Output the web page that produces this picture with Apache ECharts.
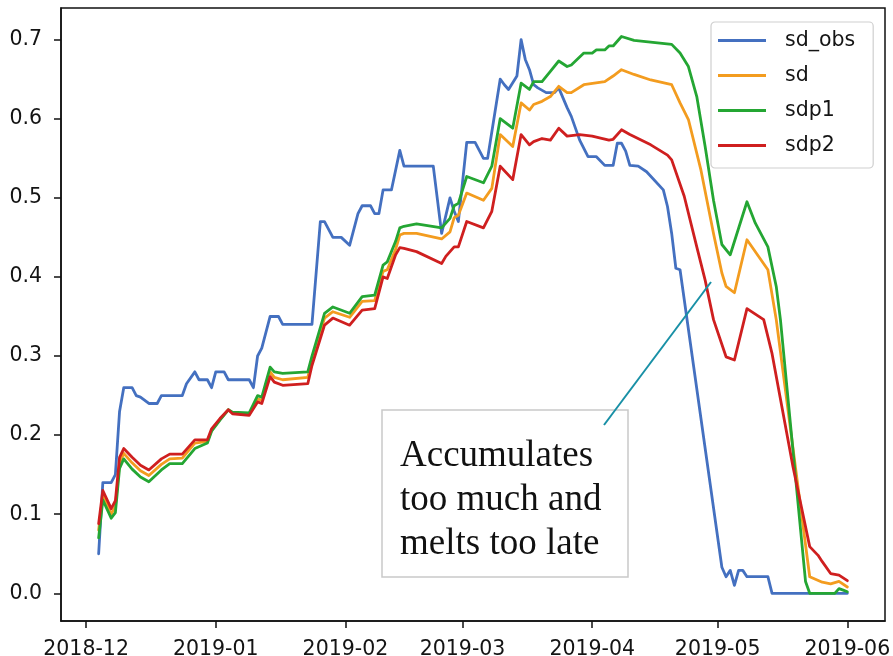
<!DOCTYPE html>
<html>
<head>
<meta charset="utf-8">
<style>
  html, body { margin: 0; padding: 0; background: #ffffff; }
  #chart { width: 893px; height: 656px; }
</style>
<script src="https://cdn.jsdelivr.net/npm/echarts@6/dist/echarts.min.js"></script>
</head>
<body>
<div id="chart"></div>
<script>
// Snow depth: observations against three model runs
const seriesNames = ['sd_obs', 'sd', 'sdp1', 'sdp2'];
const seriesColors = ['#4470c0', '#f39c1f', '#24a633', '#cf1f1f'];

const xTickLabels = ['2018-12', '2019-01', '2019-02', '2019-03', '2019-04', '2019-05', '2019-06'];
const yTickValues = [0.0, 0.1, 0.2, 0.3, 0.4, 0.5, 0.6, 0.7];

const sdObs = [
  ['2018-12-04', 0.050], ['2018-12-05', 0.140], ['2018-12-07', 0.140], ['2018-12-08', 0.150],
  ['2018-12-09', 0.230], ['2018-12-10', 0.260], ['2018-12-12', 0.260], ['2018-12-13', 0.250],
  ['2018-12-14', 0.248], ['2018-12-16', 0.240], ['2018-12-18', 0.240], ['2018-12-19', 0.250],
  ['2018-12-24', 0.250], ['2018-12-25', 0.265], ['2018-12-27', 0.280], ['2018-12-28', 0.270],
  ['2018-12-30', 0.270], ['2018-12-31', 0.260], ['2019-01-01', 0.280], ['2019-01-03', 0.280],
  ['2019-01-04', 0.270], ['2019-01-09', 0.270], ['2019-01-10', 0.260], ['2019-01-11', 0.300],
  ['2019-01-12', 0.310], ['2019-01-14', 0.350], ['2019-01-16', 0.350], ['2019-01-17', 0.340],
  ['2019-01-24', 0.340], ['2019-01-26', 0.470], ['2019-01-27', 0.470], ['2019-01-29', 0.450],
  ['2019-01-31', 0.450], ['2019-02-02', 0.440], ['2019-02-04', 0.480], ['2019-02-05', 0.490],
  ['2019-02-07', 0.490], ['2019-02-08', 0.480], ['2019-02-09', 0.480], ['2019-02-10', 0.510],
  ['2019-02-12', 0.510], ['2019-02-14', 0.560], ['2019-02-15', 0.540], ['2019-02-22', 0.540],
  ['2019-02-24', 0.455], ['2019-02-26', 0.500], ['2019-02-27', 0.483], ['2019-02-28', 0.470],
  ['2019-03-02', 0.570], ['2019-03-04', 0.570], ['2019-03-05', 0.560], ['2019-03-06', 0.550],
  ['2019-03-07', 0.550], ['2019-03-10', 0.650], ['2019-03-11', 0.643], ['2019-03-12', 0.637],
  ['2019-03-14', 0.654], ['2019-03-15', 0.700], ['2019-03-16', 0.675], ['2019-03-17', 0.662],
  ['2019-03-18', 0.643], ['2019-03-19', 0.639], ['2019-03-21', 0.633], ['2019-03-23', 0.633],
  ['2019-03-24', 0.639], ['2019-03-26', 0.614], ['2019-03-27', 0.603], ['2019-03-29', 0.573],
  ['2019-03-31', 0.552], ['2019-04-02', 0.552], ['2019-04-04', 0.541], ['2019-04-06', 0.541],
  ['2019-04-07', 0.569], ['2019-04-08', 0.569], ['2019-04-09', 0.559], ['2019-04-10', 0.541],
  ['2019-04-12', 0.540], ['2019-04-14', 0.533], ['2019-04-18', 0.510], ['2019-04-19', 0.489],
  ['2019-04-20', 0.455], ['2019-04-21', 0.411], ['2019-04-22', 0.409], ['2019-05-02', 0.033],
  ['2019-05-03', 0.021], ['2019-05-04', 0.029], ['2019-05-05', 0.010], ['2019-05-06', 0.029],
  ['2019-05-07', 0.029], ['2019-05-08', 0.021], ['2019-05-13', 0.021], ['2019-05-14', 0.000],
  ['2019-06-01', 0.000]
];

const sdModel = [
  ['2018-12-04', 0.080], ['2018-12-05', 0.125], ['2018-12-07', 0.100], ['2018-12-08', 0.110],
  ['2018-12-09', 0.165], ['2018-12-10', 0.177], ['2018-12-12', 0.165], ['2018-12-14', 0.155],
  ['2018-12-16', 0.149], ['2018-12-19', 0.163], ['2018-12-21', 0.170], ['2018-12-24', 0.171],
  ['2018-12-27', 0.190], ['2018-12-30', 0.192], ['2018-12-31', 0.206], ['2019-01-02', 0.220],
  ['2019-01-04', 0.232], ['2019-01-05', 0.228], ['2019-01-09', 0.226], ['2019-01-11', 0.246],
  ['2019-01-12', 0.244], ['2019-01-14', 0.280], ['2019-01-15', 0.273], ['2019-01-17', 0.270],
  ['2019-01-23', 0.273], ['2019-01-24', 0.295], ['2019-01-27', 0.348], ['2019-01-29', 0.356],
  ['2019-02-02', 0.349], ['2019-02-05', 0.369], ['2019-02-08', 0.370], ['2019-02-10', 0.407],
  ['2019-02-11', 0.409], ['2019-02-13', 0.435], ['2019-02-14', 0.453], ['2019-02-15', 0.455],
  ['2019-02-18', 0.455], ['2019-02-24', 0.448], ['2019-02-26', 0.457], ['2019-02-27', 0.475],
  ['2019-02-28', 0.478], ['2019-03-02', 0.506], ['2019-03-06', 0.497], ['2019-03-08', 0.512],
  ['2019-03-10', 0.580], ['2019-03-13', 0.565], ['2019-03-15', 0.620], ['2019-03-17', 0.611],
  ['2019-03-18', 0.618], ['2019-03-20', 0.622], ['2019-03-22', 0.628], ['2019-03-24', 0.641],
  ['2019-03-26', 0.633], ['2019-03-27', 0.633], ['2019-03-30', 0.643], ['2019-04-04', 0.647],
  ['2019-04-06', 0.654], ['2019-04-08', 0.662], ['2019-04-11', 0.656], ['2019-04-15', 0.649],
  ['2019-04-20', 0.643], ['2019-04-22', 0.620], ['2019-04-24', 0.599], ['2019-04-27', 0.535],
  ['2019-04-30', 0.455], ['2019-05-02', 0.405], ['2019-05-03', 0.388], ['2019-05-05', 0.380],
  ['2019-05-08', 0.447], ['2019-05-13', 0.409], ['2019-05-15', 0.346], ['2019-05-23', 0.021],
  ['2019-05-26', 0.014], ['2019-05-28', 0.012], ['2019-05-30', 0.015], ['2019-06-01', 0.008]
];

const sdp1 = [
  ['2018-12-04', 0.070], ['2018-12-05', 0.118], ['2018-12-07', 0.095], ['2018-12-08', 0.102],
  ['2018-12-09', 0.158], ['2018-12-10', 0.170], ['2018-12-12', 0.157], ['2018-12-14', 0.147],
  ['2018-12-16', 0.141], ['2018-12-19', 0.156], ['2018-12-21', 0.164], ['2018-12-24', 0.164],
  ['2018-12-27', 0.183], ['2018-12-30', 0.190], ['2018-12-31', 0.205], ['2019-01-02', 0.219],
  ['2019-01-04', 0.232], ['2019-01-05', 0.229], ['2019-01-09', 0.228], ['2019-01-11', 0.250],
  ['2019-01-12', 0.248], ['2019-01-14', 0.286], ['2019-01-15', 0.280], ['2019-01-17', 0.278],
  ['2019-01-23', 0.280], ['2019-01-24', 0.300], ['2019-01-27', 0.354], ['2019-01-29', 0.362],
  ['2019-02-02', 0.354], ['2019-02-05', 0.375], ['2019-02-08', 0.377], ['2019-02-10', 0.415],
  ['2019-02-11', 0.419], ['2019-02-13', 0.445], ['2019-02-14', 0.462], ['2019-02-15', 0.464],
  ['2019-02-18', 0.467], ['2019-02-24', 0.462], ['2019-02-26', 0.474], ['2019-02-27', 0.490],
  ['2019-02-28', 0.493], ['2019-03-02', 0.527], ['2019-03-06', 0.519], ['2019-03-08', 0.540],
  ['2019-03-10', 0.600], ['2019-03-13', 0.588], ['2019-03-15', 0.645], ['2019-03-17', 0.637],
  ['2019-03-18', 0.647], ['2019-03-20', 0.647], ['2019-03-22', 0.660], ['2019-03-24', 0.673],
  ['2019-03-26', 0.666], ['2019-03-27', 0.668], ['2019-03-30', 0.683], ['2019-04-01', 0.683],
  ['2019-04-02', 0.687], ['2019-04-04', 0.687], ['2019-04-05', 0.692], ['2019-04-06', 0.692],
  ['2019-04-08', 0.704], ['2019-04-11', 0.699], ['2019-04-20', 0.694], ['2019-04-22', 0.683],
  ['2019-04-24', 0.666], ['2019-04-26', 0.628], ['2019-04-28', 0.565], ['2019-04-30', 0.497],
  ['2019-05-02', 0.441], ['2019-05-04', 0.428], ['2019-05-08', 0.495], ['2019-05-10', 0.468],
  ['2019-05-13', 0.438], ['2019-05-15', 0.388], ['2019-05-16', 0.346], ['2019-05-22', 0.015],
  ['2019-05-23', 0.000], ['2019-05-29', 0.000], ['2019-05-30', 0.006], ['2019-05-31', 0.004],
  ['2019-06-01', 0.002]
];

const sdp2 = [
  ['2018-12-04', 0.088], ['2018-12-05', 0.130], ['2018-12-07', 0.107], ['2018-12-08', 0.117],
  ['2018-12-09', 0.172], ['2018-12-10', 0.183], ['2018-12-12', 0.172], ['2018-12-14', 0.162],
  ['2018-12-16', 0.156], ['2018-12-19', 0.170], ['2018-12-21', 0.176], ['2018-12-24', 0.176],
  ['2018-12-27', 0.194], ['2018-12-30', 0.194], ['2018-12-31', 0.208], ['2019-01-02', 0.221],
  ['2019-01-04', 0.232], ['2019-01-05', 0.227], ['2019-01-09', 0.225], ['2019-01-11', 0.242],
  ['2019-01-12', 0.240], ['2019-01-14', 0.274], ['2019-01-15', 0.267], ['2019-01-17', 0.263],
  ['2019-01-23', 0.265], ['2019-01-24', 0.288], ['2019-01-27', 0.339], ['2019-01-29', 0.348],
  ['2019-02-02', 0.339], ['2019-02-05', 0.358], ['2019-02-08', 0.360], ['2019-02-10', 0.400],
  ['2019-02-11', 0.398], ['2019-02-13', 0.428], ['2019-02-14', 0.437], ['2019-02-15', 0.436],
  ['2019-02-18', 0.432], ['2019-02-24', 0.417], ['2019-02-25', 0.426], ['2019-02-27', 0.438],
  ['2019-02-28', 0.438], ['2019-03-02', 0.470], ['2019-03-06', 0.462], ['2019-03-08', 0.483],
  ['2019-03-10', 0.540], ['2019-03-13', 0.523], ['2019-03-15', 0.580], ['2019-03-17', 0.567],
  ['2019-03-18', 0.571], ['2019-03-20', 0.575], ['2019-03-22', 0.573], ['2019-03-24', 0.588],
  ['2019-03-26', 0.578], ['2019-03-29', 0.580], ['2019-04-01', 0.578], ['2019-04-05', 0.573],
  ['2019-04-06', 0.574], ['2019-04-08', 0.586], ['2019-04-10', 0.580], ['2019-04-15', 0.567],
  ['2019-04-19', 0.554], ['2019-04-20', 0.548], ['2019-04-23', 0.502], ['2019-04-26', 0.438],
  ['2019-04-28', 0.396], ['2019-04-30', 0.346], ['2019-05-03', 0.299], ['2019-05-05', 0.295],
  ['2019-05-08', 0.360], ['2019-05-12', 0.346], ['2019-05-14', 0.303], ['2019-05-19', 0.160],
  ['2019-05-23', 0.059], ['2019-05-25', 0.048], ['2019-05-26', 0.040], ['2019-05-28', 0.025],
  ['2019-05-30', 0.023], ['2019-06-01', 0.016]
];

const seriesValues = [sdObs, sdModel, sdp1, sdp2];

// local-time timestamp from 'YYYY-MM' or 'YYYY-MM-DD'
function ts(s) {
  const p = s.split('-').map(Number);
  return new Date(p[0], p[1] - 1, p[2] || 1).getTime();
}
function pad2(n) { return (n < 10 ? '0' : '') + n; }

const xTickValues = xTickLabels.map(ts);
const axisFont = { fontFamily: 'DejaVu Sans', fontSize: 20.5, color: '#141414' };

const chart = echarts.init(document.getElementById('chart'), null, { renderer: 'canvas' });

chart.setOption({
  animation: false,
  backgroundColor: '#ffffff',
  grid: {
    left: 61, right: 8, top: 8, bottom: 35,
    outerBoundsMode: 'none',
    containLabel: false,
    show: true, borderColor: '#111111', borderWidth: 1.5, backgroundColor: 'transparent'
  },
  // dates are plotted as millisecond timestamps on a linear axis
  xAxis: {
    type: 'value',
    min: ts('2018-11-25'),
    max: ts('2019-06-10'),
    splitLine: { show: false },
    axisLine: { show: true, onZero: false, lineStyle: { color: '#111111', width: 1.5 } },
    axisTick: {
      show: true, inside: false, length: 7,
      lineStyle: { color: '#111111', width: 1.5 },
      customValues: xTickValues
    },
    axisLabel: Object.assign({
      margin: 18,
      customValues: xTickValues,
      formatter: function (v) {
        const i = xTickValues.indexOf(v);
        if (i >= 0) return xTickLabels[i];
        const d = new Date(v);
        return d.getFullYear() + '-' + pad2(d.getMonth() + 1);
      }
    }, axisFont)
  },
  yAxis: {
    type: 'value',
    min: -0.035,
    max: 0.74,
    splitLine: { show: false },
    axisLine: { show: true, onZero: false, lineStyle: { color: '#111111', width: 1.5 } },
    axisTick: {
      show: true, inside: false, length: 7,
      lineStyle: { color: '#111111', width: 1.5 },
      customValues: yTickValues
    },
    axisLabel: Object.assign({
      margin: 19,
      customValues: yTickValues,
      formatter: function (v) { return Number(v).toFixed(1); }
    }, axisFont)
  },
  legend: {
    orient: 'vertical',
    left: 711,
    top: 22,
    padding: [8, 18, 12, 7],
    itemGap: 14,
    itemWidth: 48,
    itemHeight: 3,
    icon: 'rect',
    backgroundColor: 'rgba(255,255,255,0.85)',
    borderColor: '#cfcfcf',
    borderWidth: 1.2,
    borderRadius: 4,
    textStyle: {
      fontFamily: 'DejaVu Sans', fontSize: 20.5, color: '#141414',
      lineHeight: 20, padding: [0, 0, 0, 14]
    },
    data: seriesNames
  },
  series: seriesNames.map(function (name, i) {
    return {
      name: name,
      type: 'line',
      showSymbol: false,
      symbol: 'none',
      z: 2 + i,
      color: seriesColors[i],
      lineStyle: { width: 2.8, color: seriesColors[i], cap: 'round', join: 'round' },
      data: seriesValues[i].map(function (p) { return [ts(p[0]), p[1]]; })
    };
  }),
  graphic: [
    {
      type: 'rect',
      z: 50,
      shape: { x: 382, y: 410, width: 246, height: 167 },
      style: { fill: '#ffffff', stroke: '#c9c9c9', lineWidth: 1.5 }
    },
    {
      type: 'text',
      z: 51,
      x: 400,
      y: 434,
      style: {
        text: 'Accumulates\ntoo much and\nmelts too late',
        font: '37px "Liberation Serif", "Times New Roman", serif',
        lineHeight: 44,
        fill: '#111111',
        verticalAlign: 'top',
        align: 'left'
      }
    },
    {
      type: 'line',
      z: 52,
      shape: { x1: 604, y1: 425, x2: 711, y2: 282 },
      style: { stroke: '#1890a6', lineWidth: 2 }
    }
  ]
});
</script>
</body>
</html>
